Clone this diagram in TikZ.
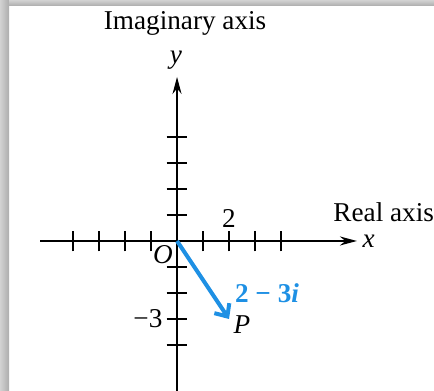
\documentclass[tikz,border=0pt]{standalone}
\usepackage{fontspec}
\setmainfont{Liberation Serif}
\usetikzlibrary{arrows.meta}
\definecolor{vecblue}{RGB}{30,144,228}
\tikzset{
    lbl/.style={font=\fontsize{13.6}{16}\selectfont, inner sep=0pt},
    axis/.style={line width=1pt, -{Stealth[length=8.5pt, width=4.5pt]}},
    tick/.style={line width=1pt}
}
\begin{document}
\begin{tikzpicture}[x=13pt, y=13pt]
    \useasboundingbox (-6.81,-5.77) rectangle (9.885,9.27);
    % Frame shadow
    \shade[left color=gray!35, right color=gray!65] (-6.81,-5.77) rectangle (-6.46,9.27);
    \shade[top color=gray!35, bottom color=gray!65] (-6.46,9.04) rectangle (9.885,9.27);

    % Draw axes
    \coordinate (O) at (0,0);
    \coordinate (P) at (2,-3);
    \draw[axis] (-5.27,0) -- (6.92,0);
    \draw[axis] (0,-5.77) -- (0,6.31);
    \foreach \k in {-4,-3,-2,-1,1,2,3,4} {
        \draw[tick] (\k,-0.4) -- (\k,0.4);
        \draw[tick] (-0.4,\k) -- (0.4,\k);
    }

    % Axis labels
    \node[lbl] (imag) at (0.31,8.38) {Imaginary axis};
    \node[lbl] (ylab) at (-0.04,6.96) {\textit{y}};
    \node[lbl] (real) at (7.95,1.12) {Real axis};
    \node[lbl] (xlab) at (7.37,0) {\textit{x}};
    \node[lbl] (two) at (2,0.88) {2};
    \node[lbl] (orig) at (-0.54,-0.54) {\textit{O}};
    \node[lbl] (mthree) at (-1.12,-3) {−3};

    % Draw vector 2 - 3i
    \draw[vecblue, line width=2pt, -{Straight Barb[length=5pt, width=9pt]}] (O) -- (P);
    \node[lbl] (pt) at (2.5,-3.23) {\textit{P}};
    \node[lbl, vecblue] (val) at (3.46,-2.0) {\textbf{2 − 3\textit{i}}};
\end{tikzpicture}
\end{document}
